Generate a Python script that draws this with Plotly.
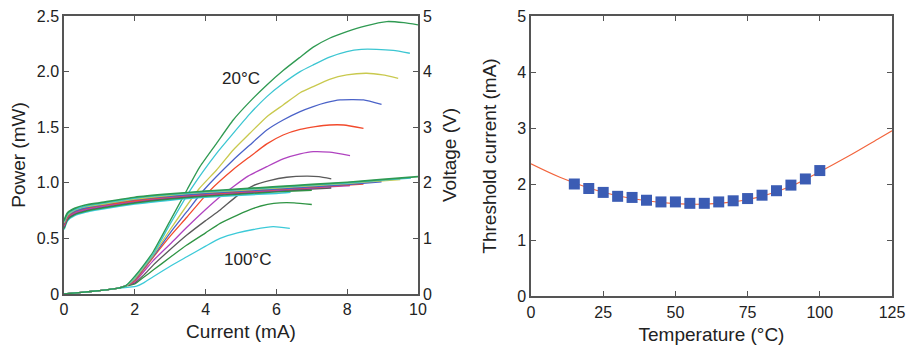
import plotly.graph_objects as go

# ---------------- Data ----------------
temps = ["20°C", "30°C", "40°C", "50°C", "60°C", "70°C", "80°C", "90°C", "100°C"]
colors = ["#2f9a52", "#3cc6d2", "#c9c94e", "#4a62c8", "#f24a2c", "#b043c0", "#5a5a5a", "#2f9444", "#3ccad8"]

# Power (mW) vs current (mA)
p_cur_20 = [0, 0.5, 1.0, 1.5, 1.75, 2.0, 2.25, 2.52, 3.0, 3.48, 3.84, 4.31, 4.78, 5.25, 5.73, 6.19, 6.67, 7.04, 7.5, 7.99, 8.5, 9.12, 9.6, 10.0]
p_pow_20 = [0, 0.015, 0.03, 0.05, 0.075, 0.16, 0.26, 0.38, 0.66, 0.94, 1.145, 1.355, 1.565, 1.73, 1.88, 2.01, 2.13, 2.22, 2.30, 2.36, 2.41, 2.45, 2.44, 2.42]
p_cur_30 = [0, 0.5, 1.0, 1.5, 1.75, 2.0, 2.25, 2.52, 3.0, 3.6, 4.31, 4.78, 5.25, 5.73, 6.19, 6.67, 7.04, 7.5, 7.99, 8.4, 8.83, 9.3, 9.77]
p_pow_30 = [0, 0.015, 0.03, 0.05, 0.075, 0.15, 0.25, 0.36, 0.63, 0.95, 1.265, 1.445, 1.62, 1.775, 1.895, 2.0, 2.06, 2.13, 2.18, 2.20, 2.20, 2.19, 2.165]
p_cur_40 = [0, 0.5, 1.0, 1.5, 1.75, 2.0, 2.25, 2.52, 3.0, 3.8, 4.31, 4.78, 5.25, 5.73, 6.19, 6.67, 7.04, 7.5, 7.99, 8.55, 9.0, 9.44]
p_pow_40 = [0, 0.015, 0.03, 0.05, 0.075, 0.14, 0.24, 0.35, 0.58, 0.94, 1.115, 1.295, 1.445, 1.595, 1.70, 1.81, 1.865, 1.93, 1.97, 1.985, 1.97, 1.94]
p_cur_50 = [0, 0.5, 1.0, 1.5, 1.75, 2.0, 2.25, 2.52, 3.0, 3.47, 3.95, 4.78, 5.25, 5.73, 6.19, 6.67, 7.04, 7.4, 7.8, 8.46, 8.97]
p_pow_50 = [0, 0.015, 0.03, 0.05, 0.075, 0.13, 0.23, 0.34, 0.55, 0.74, 0.935, 1.205, 1.34, 1.475, 1.565, 1.64, 1.685, 1.72, 1.745, 1.745, 1.705]
p_cur_60 = [0, 0.5, 1.0, 1.5, 1.75, 2.0, 2.25, 2.52, 3.0, 3.47, 4.12, 4.78, 5.25, 5.73, 6.19, 6.67, 7.1, 7.5, 7.9, 8.46]
p_pow_60 = [0, 0.015, 0.03, 0.05, 0.075, 0.12, 0.22, 0.33, 0.52, 0.69, 0.93, 1.12, 1.235, 1.35, 1.43, 1.48, 1.505, 1.52, 1.52, 1.49]
p_cur_70 = [0, 0.5, 1.0, 1.5, 1.75, 2.0, 2.25, 2.52, 3.0, 3.47, 4.0, 4.41, 4.78, 5.2, 5.73, 6.19, 6.67, 7.04, 7.5, 8.08]
p_pow_70 = [0, 0.015, 0.03, 0.05, 0.075, 0.11, 0.20, 0.30, 0.45, 0.60, 0.76, 0.875, 0.965, 1.06, 1.145, 1.215, 1.26, 1.28, 1.275, 1.245]
p_cur_80 = [0, 0.5, 1.0, 1.5, 1.75, 2.0, 2.25, 2.52, 3.0, 3.47, 4.0, 4.41, 4.88, 5.35, 5.8, 6.29, 6.86, 7.2, 7.55]
p_pow_80 = [0, 0.015, 0.03, 0.05, 0.075, 0.10, 0.17, 0.26, 0.40, 0.53, 0.66, 0.755, 0.88, 0.975, 1.02, 1.05, 1.06, 1.055, 1.035]
p_cur_90 = [0, 0.5, 1.0, 1.5, 1.8, 2.0, 2.25, 2.52, 3.0, 3.47, 4.0, 4.41, 4.9, 5.35, 5.75, 6.1, 6.5, 7.0]
p_pow_90 = [0, 0.015, 0.03, 0.05, 0.075, 0.09, 0.15, 0.215, 0.33, 0.44, 0.55, 0.635, 0.71, 0.77, 0.805, 0.82, 0.82, 0.805]
p_cur_100 = [0, 0.5, 1.0, 1.5, 1.8, 2.05, 2.25, 2.52, 3.0, 3.47, 4.0, 4.41, 4.9, 5.35, 5.91, 6.38]
p_pow_100 = [0, 0.015, 0.03, 0.05, 0.06, 0.07, 0.10, 0.155, 0.25, 0.335, 0.43, 0.50, 0.55, 0.58, 0.605, 0.59]

# Voltage (V) vs current (mA)
v_cur_20 = [0, 0.1, 0.3, 0.6, 1, 2, 3, 4, 5, 6, 7, 8, 9, 10]
v_vol_20 = [1.32, 1.46, 1.54, 1.60, 1.64, 1.74, 1.80, 1.85, 1.89, 1.93, 1.97, 2.01, 2.06, 2.11]
v_cur_30 = [0, 0.1, 0.3, 0.6, 1, 2, 3, 4, 5, 6, 7, 8, 9, 9.8]
v_vol_30 = [1.30, 1.44, 1.52, 1.58, 1.625, 1.725, 1.79, 1.84, 1.88, 1.92, 1.96, 2.00, 2.05, 2.09]
v_cur_40 = [0, 0.1, 0.3, 0.6, 1, 2, 3, 4, 5, 6, 7, 8, 9, 9.5]
v_vol_40 = [1.28, 1.42, 1.51, 1.57, 1.61, 1.71, 1.78, 1.83, 1.87, 1.91, 1.95, 1.99, 2.04, 2.06]
v_cur_50 = [0, 0.1, 0.3, 0.6, 1, 2, 3, 4, 5, 6, 7, 8, 8.97]
v_vol_50 = [1.26, 1.41, 1.49, 1.55, 1.60, 1.70, 1.76, 1.81, 1.85, 1.89, 1.93, 1.97, 2.02]
v_cur_60 = [0, 0.1, 0.3, 0.6, 1, 2, 3, 4, 5, 6, 7, 8, 8.46]
v_vol_60 = [1.24, 1.39, 1.48, 1.54, 1.59, 1.68, 1.75, 1.80, 1.84, 1.88, 1.92, 1.96, 1.98]
v_cur_70 = [0, 0.1, 0.3, 0.6, 1, 2, 3, 4, 5, 6, 7, 8, 8.08]
v_vol_70 = [1.22, 1.38, 1.46, 1.52, 1.57, 1.67, 1.74, 1.79, 1.83, 1.87, 1.91, 1.95, 1.955]
v_cur_80 = [0, 0.1, 0.3, 0.6, 1, 2, 3, 4, 5, 6, 7, 7.55]
v_vol_80 = [1.20, 1.36, 1.45, 1.51, 1.56, 1.66, 1.73, 1.78, 1.82, 1.86, 1.89, 1.91]
v_cur_90 = [0, 0.1, 0.3, 0.6, 1, 2, 3, 4, 5, 6, 7]
v_vol_90 = [1.18, 1.34, 1.43, 1.49, 1.54, 1.64, 1.71, 1.76, 1.80, 1.84, 1.87]
v_cur_100 = [0, 0.1, 0.3, 0.6, 1, 2, 3, 4, 5, 6, 6.4]
v_vol_100 = [1.16, 1.32, 1.41, 1.47, 1.52, 1.62, 1.69, 1.74, 1.78, 1.81, 1.83]

# Threshold current vs temperature
th_temp = [15, 20, 25, 30, 35, 40, 45, 50, 55, 60, 65, 70, 75, 80, 85, 90, 95, 100]
th_cur = [2.00, 1.92, 1.85, 1.78, 1.76, 1.71, 1.68, 1.68, 1.655, 1.655, 1.68, 1.70, 1.74, 1.80, 1.88, 1.98, 2.09, 2.24]
fit_temp = [0, 10, 20, 30, 40, 50, 60, 70, 80, 90, 100, 110, 120, 125]
fit_cur = [2.36, 2.12, 1.93, 1.79, 1.70, 1.65, 1.64, 1.68, 1.78, 1.96, 2.22, 2.50, 2.80, 2.95]

power_sets = [(p_cur_20, p_pow_20), (p_cur_30, p_pow_30), (p_cur_40, p_pow_40), (p_cur_50, p_pow_50),
              (p_cur_60, p_pow_60), (p_cur_70, p_pow_70), (p_cur_80, p_pow_80), (p_cur_90, p_pow_90),
              (p_cur_100, p_pow_100)]
volt_sets = [(v_cur_20, v_vol_20), (v_cur_30, v_vol_30), (v_cur_40, v_vol_40), (v_cur_50, v_vol_50),
             (v_cur_60, v_vol_60), (v_cur_70, v_vol_70), (v_cur_80, v_vol_80), (v_cur_90, v_vol_90),
             (v_cur_100, v_vol_100)]

# ---------------- Figure ----------------
fig = go.Figure()
for i in reversed(range(len(temps))):
    vx, vy = volt_sets[i]
    fig.add_trace(go.Scatter(x=vx, y=vy, mode="lines", xaxis="x", yaxis="y2",
                             line=dict(color=colors[i], width=1.7, shape="spline", smoothing=0.6),
                             showlegend=False, name=temps[i] + " V"))
for i in reversed(range(len(temps))):
    px, py = power_sets[i]
    fig.add_trace(go.Scatter(x=px, y=py, mode="lines", xaxis="x", yaxis="y",
                             line=dict(color=colors[i], width=1.3, shape="spline", smoothing=0.5),
                             showlegend=False, name=temps[i]))

fig.add_trace(go.Scatter(x=fit_temp, y=fit_cur, mode="lines", xaxis="x3", yaxis="y3",
                         line=dict(color="#f2643c", width=1.1, shape="spline"), showlegend=False))
fig.add_trace(go.Scatter(x=th_temp, y=th_cur, mode="markers", xaxis="x3", yaxis="y3",
                         marker=dict(symbol="square", size=11, color="#3b5cb4"), showlegend=False))

font = dict(family="Liberation Sans, Arial, sans-serif", size=16, color="#222")
axcol = "#555"
base = dict(showgrid=False, zeroline=False, showline=True, linecolor=axcol, linewidth=1.5,
            ticks="inside", ticklen=5, tickcolor=axcol, tickwidth=1.2, automargin=False,
            tickfont=dict(size=16, color="#222"))

yd_l = [1 - 294 / 354, 1 - 16 / 354]
yd_r = [1 - 296 / 354, 1 - 16 / 354]

fig.update_layout(
    width=918, height=354, margin=dict(l=0, r=0, t=0, b=0),
    paper_bgcolor="white", plot_bgcolor="white", font=font,
    xaxis=dict(domain=[64 / 918, 418 / 918], range=[0, 10], tickvals=[0, 2, 4, 6, 8, 10],
               title=dict(text="Current (mA)", standoff=8), anchor="y", mirror="ticks", **base),
    yaxis=dict(domain=yd_l, range=[0, 2.5], tickvals=[0, 0.5, 1.0, 1.5, 2.0, 2.5],
               ticktext=["0", "0.5", "1.0", "1.5", "2.0", "2.5"],
               title=dict(text="Power (mW)", standoff=6), anchor="x", **base),
    yaxis2=dict(overlaying="y", side="right", anchor="x", range=[0, 5], tickvals=[0, 1, 2, 3, 4, 5],
                title=dict(text="Voltage (V)", standoff=12), **base),
    xaxis3=dict(domain=[531 / 918, 892 / 918], range=[0, 125], tickvals=[0, 25, 50, 75, 100, 125],
                title=dict(text="Temperature (°C)", standoff=8), anchor="y3", mirror="ticks",
                ticklabelstandoff=1, **base),
    yaxis3=dict(domain=yd_r, range=[0, 5], tickvals=[0, 1, 2, 3, 4, 5],
                title=dict(text="Threshold current (mA)", standoff=15), anchor="x3", mirror="ticks",
                **base),
    annotations=[
        dict(text="20°C", x=5.0, y=1.94, xref="x", yref="y", showarrow=False, font=dict(size=17)),
        dict(text="100°C", x=5.17, y=0.31, xref="x", yref="y", showarrow=False, font=dict(size=17)),
    ],
)

fig.write_html("out.html")
